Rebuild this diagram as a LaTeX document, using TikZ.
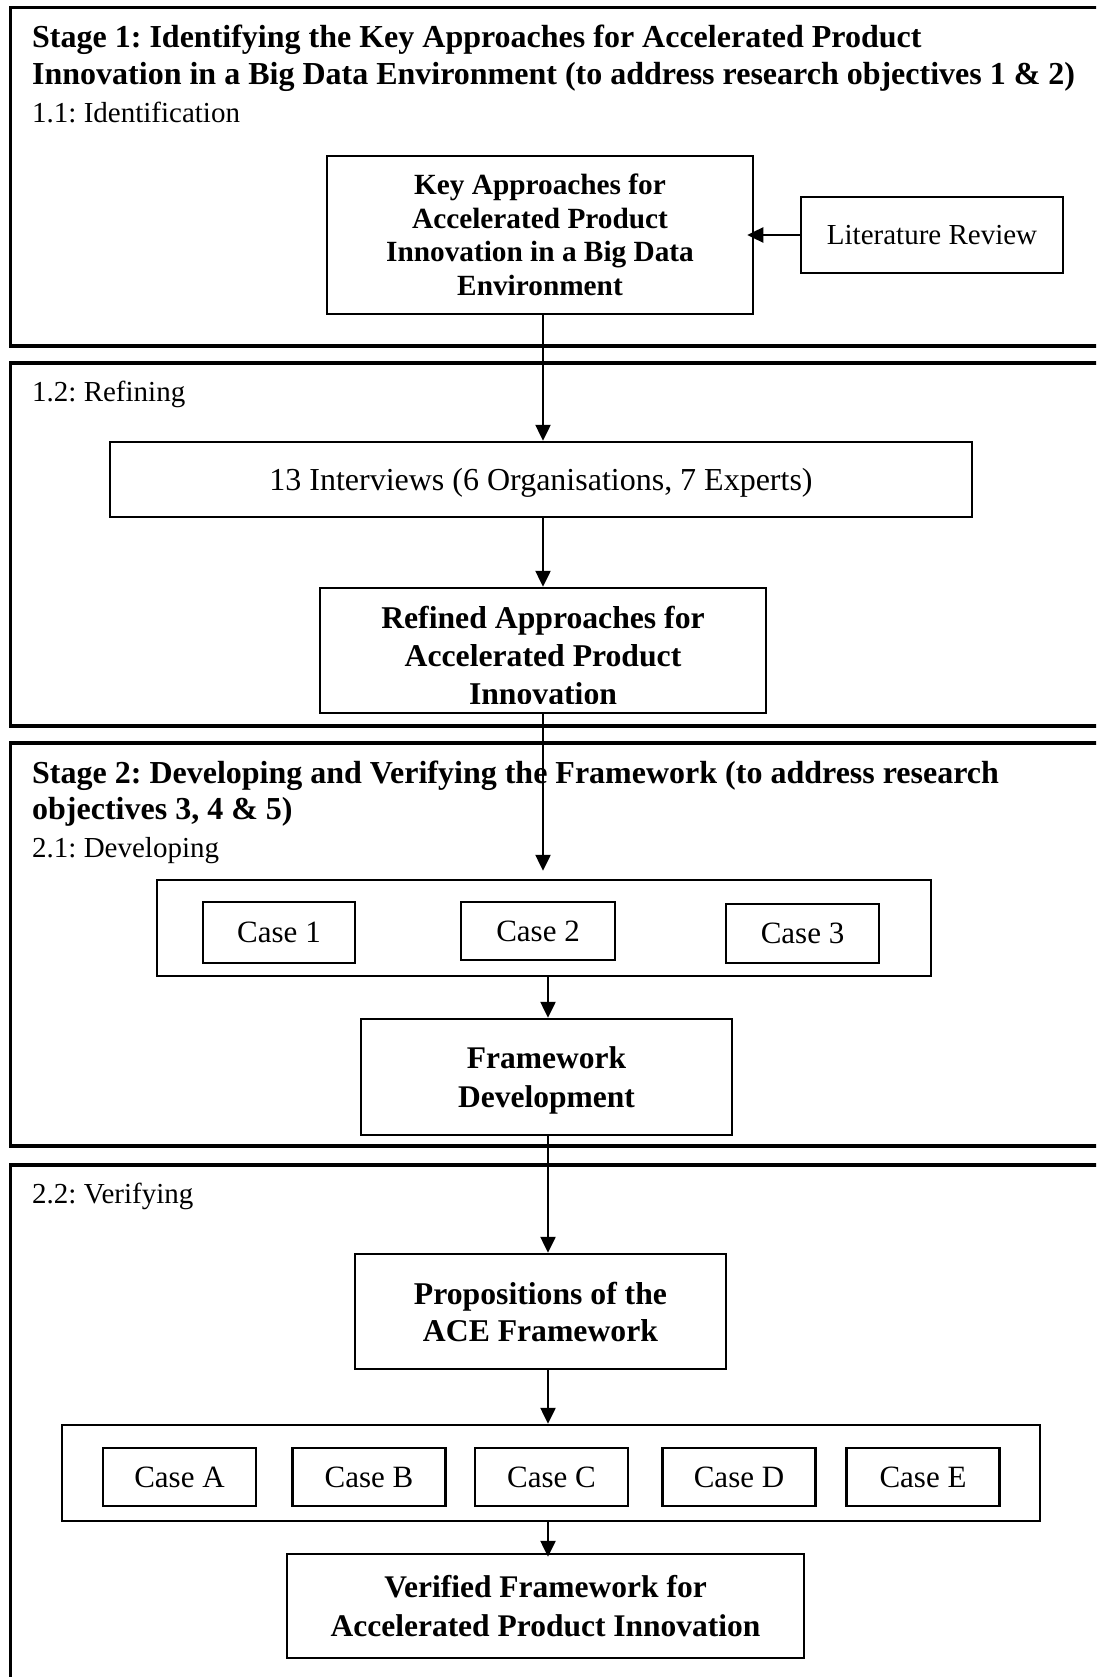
\documentclass[tikz,border=0pt]{standalone}
\usepackage{fontspec}
\setmainfont{Liberation Serif}
\usetikzlibrary{arrows.meta}
\frenchspacing

\tikzset{
  frame/.style={line width=3.5pt},
  box/.style={draw, line width=2.5pt, rectangle, inner sep=0pt, align=center},
  arr/.style={line width=2.5pt, -{Triangle[length=16pt,width=15pt]}},
  heading/.style={font=\fontsize{32}{37}\selectfont\bfseries, anchor=base west, inner sep=0pt},
  substage/.style={font=\fontsize{29}{34}\selectfont, anchor=base west, inner sep=0pt},
  casebox/.style={box, font=\fontsize{31}{36}\selectfont, minimum width=153pt, minimum height=58pt},
}

\begin{document}
\begin{tikzpicture}[x=1pt, y=-1pt]
\useasboundingbox (0,0) rectangle (1096,1677);
\clip (0,0) rectangle (1096,1677);

% stage frames (open to the right and bottom)
\draw[frame] (10.5,7.5) rectangle (1115,346);
\draw[frame] (10.5,363) rectangle (1115,726);
\draw[frame] (10.5,743) rectangle (1115,1146);
\draw[frame] (10.5,1165) rectangle (1115,1700);

% headings
\node[heading] (t1a) at (32,48) {Stage 1: Identifying the Key Approaches for Accelerated Product};
\node[heading] (t1b) at (32,85) {Innovation in a Big Data Environment (to address research objectives 1 \& 2)};
\node[substage] (s11) at (32,123) {1.1: Identification};
\node[substage] (s12) at (32,401) {1.2: Refining};
\node[heading] (t2a) at (32,783) {Stage 2: Developing and Verifying the Framework (to address research};
\node[heading] (t2b) at (32,819) {objectives 3, 4 \& 5)};
\node[substage] (s21) at (32,857) {2.1: Developing};
\node[substage] (s22) at (32,1203) {2.2: Verifying};

% 1.1
\node[box, font=\fontsize{29.3}{33.5}\selectfont\bfseries, minimum width=426pt, minimum height=158pt]
  (key) at (540,235) {Key Approaches for\\Accelerated Product\\Innovation in a Big Data\\Environment};
\node[box, font=\fontsize{29}{34}\selectfont, minimum width=262pt, minimum height=76pt]
  (lit) at (932,235) {Literature Review};

% 1.2
\node[box, font=\fontsize{32}{37}\selectfont, text depth=0pt, minimum width=862pt, minimum height=75pt]
  (int) at (541,479.5) {13 Interviews (6 Organisations, 7 Experts)};
\node[box, minimum width=446pt, minimum height=125pt] (ref) at (543,650.5) {};
\begin{scope}
  \clip (ref.north west) rectangle ([yshift=11pt]ref.south east);
  \node[align=center, inner sep=0pt, font=\fontsize{31.7}{38}\selectfont\bfseries]
    (reftext) at (543,655) {Refined Approaches for\\Accelerated Product\\Innovation};
\end{scope}

% 2.1
\node[box, minimum width=774pt, minimum height=96pt] (devset) at (544,928) {};
\node[casebox, minimum width=152pt, minimum height=61pt] (c1) at (279,932.5) {Case 1};
\node[casebox, minimum width=154pt] (c2) at (538,931) {Case 2};
\node[casebox, minimum height=59pt] (c3) at (802.5,933.5) {Case 3};
\node[box, font=\fontsize{31.5}{38.5}\selectfont\bfseries, minimum width=371pt, minimum height=116pt]
  (fw) at (546.5,1077) {Framework\\\raisebox{0pt}[\height][0pt]{Development}};

% 2.2
\node[box, font=\fontsize{31.7}{37}\selectfont\bfseries, minimum width=371pt, minimum height=115pt]
  (prop) at (540.5,1311.5) {Propositions of the\\ACE Framework};
\node[box, minimum width=978pt, minimum height=96pt] (verset) at (551,1473) {};
\node[casebox] (ca) at (179.5,1477) {Case A};
\node[casebox] (cb) at (369,1477) {Case B};
\node[casebox] (cc) at (551.5,1477) {Case C};
\node[casebox] (cd) at (739,1477) {Case D};
\node[casebox] (ce) at (923,1477) {Case E};
\node[box, font=\fontsize{31.5}{38.5}\selectfont\bfseries, minimum width=517pt, minimum height=104pt]
  (ver) at (545.5,1606) {Verified Framework for\\Accelerated Product Innovation};

% connectors
\coordinate (spineA) at (543,0);
\coordinate (spineB) at (548,0);
\draw[arr, shorten >=-7pt] (lit.west) -- (key.east);
\draw[arr] (key.south -| spineA) -- (int.north -| spineA);
\draw[arr] (int.south -| spineA) -- (ref.north -| spineA);
\draw[arr, shorten >=8pt] (ref.south -| spineA) -- (devset.north -| spineA);
\draw[arr] (devset.south -| spineB) -- (fw.north -| spineB);
\draw[arr] (fw.south -| spineB) -- (prop.north -| spineB);
\draw[arr] (prop.south -| spineB) -- (verset.north -| spineB);
\draw[arr, shorten >=-4pt] (verset.south -| spineB) -- (ver.north -| spineB);
\end{tikzpicture}
\end{document}
